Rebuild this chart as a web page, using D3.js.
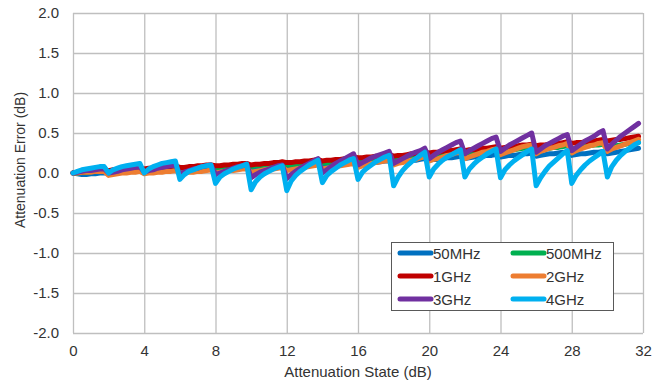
<!DOCTYPE html>
<html>
<head>
<meta charset="utf-8">
<script src="https://cdn.jsdelivr.net/npm/d3@7"></script>
<style>
  body { margin: 0; background: #fff; }
  text { font-family: "Liberation Sans", Arial, sans-serif; fill: #333; }
</style>
</head>
<body>
<svg id="chart" width="668" height="385"></svg>
<script>
// attenuation states, 0.25 dB steps
var states = [
  0, 0.25, 0.5, 0.75, 1, 1.25, 1.5, 1.75,
  2, 2.25, 2.5, 2.75, 3, 3.25, 3.5, 3.75,
  4, 4.25, 4.5, 4.75, 5, 5.25, 5.5, 5.75,
  6, 6.25, 6.5, 6.75, 7, 7.25, 7.5, 7.75,
  8, 8.25, 8.5, 8.75, 9, 9.25, 9.5, 9.75,
  10, 10.25, 10.5, 10.75, 11, 11.25, 11.5, 11.75,
  12, 12.25, 12.5, 12.75, 13, 13.25, 13.5, 13.75,
  14, 14.25, 14.5, 14.75, 15, 15.25, 15.5, 15.75,
  16, 16.25, 16.5, 16.75, 17, 17.25, 17.5, 17.75,
  18, 18.25, 18.5, 18.75, 19, 19.25, 19.5, 19.75,
  20, 20.25, 20.5, 20.75, 21, 21.25, 21.5, 21.75,
  22, 22.25, 22.5, 22.75, 23, 23.25, 23.5, 23.75,
  24, 24.25, 24.5, 24.75, 25, 25.25, 25.5, 25.75,
  26, 26.25, 26.5, 26.75, 27, 27.25, 27.5, 27.75,
  28, 28.25, 28.5, 28.75, 29, 29.25, 29.5, 29.75,
  30, 30.25, 30.5, 30.75, 31, 31.25, 31.5, 31.75
];

var err50M = [
  0.00, -0.01, -0.02, -0.02, -0.01, -0.01, 0.00, 0.00,
  0.00, 0.00, 0.01, 0.01, 0.01, 0.02, 0.02, 0.02,
  0.01, 0.02, 0.02, 0.02, 0.03, 0.03, 0.03, 0.04,
  0.03, 0.03, 0.03, 0.04, 0.04, 0.04, 0.05, 0.05,
  0.04, 0.04, 0.05, 0.05, 0.05, 0.06, 0.06, 0.07,
  0.05, 0.06, 0.06, 0.07, 0.07, 0.08, 0.08, 0.09,
  0.07, 0.08, 0.08, 0.09, 0.09, 0.10, 0.10, 0.11,
  0.09, 0.10, 0.10, 0.11, 0.11, 0.12, 0.12, 0.13,
  0.11, 0.12, 0.12, 0.13, 0.13, 0.14, 0.15, 0.15,
  0.13, 0.14, 0.14, 0.15, 0.16, 0.16, 0.17, 0.18,
  0.16, 0.17, 0.17, 0.18, 0.19, 0.19, 0.20, 0.21,
  0.18, 0.19, 0.20, 0.20, 0.21, 0.22, 0.22, 0.23,
  0.20, 0.21, 0.22, 0.22, 0.23, 0.24, 0.24, 0.25,
  0.21, 0.22, 0.23, 0.24, 0.24, 0.25, 0.26, 0.26,
  0.22, 0.23, 0.24, 0.24, 0.25, 0.26, 0.26, 0.27,
  0.24, 0.25, 0.26, 0.27, 0.28, 0.29, 0.30, 0.31
];

var err500M = [
  0.00, 0.00, 0.01, 0.01, 0.02, 0.02, 0.03, 0.03,
  0.02, 0.02, 0.03, 0.03, 0.04, 0.04, 0.05, 0.05,
  0.04, 0.04, 0.05, 0.05, 0.06, 0.06, 0.07, 0.07,
  0.05, 0.06, 0.06, 0.07, 0.07, 0.08, 0.08, 0.09,
  0.07, 0.07, 0.08, 0.08, 0.09, 0.09, 0.10, 0.10,
  0.08, 0.09, 0.09, 0.10, 0.10, 0.11, 0.11, 0.12,
  0.10, 0.10, 0.11, 0.12, 0.12, 0.13, 0.14, 0.14,
  0.12, 0.13, 0.13, 0.14, 0.15, 0.15, 0.16, 0.17,
  0.15, 0.16, 0.16, 0.17, 0.18, 0.18, 0.19, 0.20,
  0.18, 0.19, 0.19, 0.20, 0.21, 0.21, 0.22, 0.23,
  0.21, 0.22, 0.23, 0.23, 0.24, 0.25, 0.26, 0.27,
  0.24, 0.25, 0.26, 0.26, 0.27, 0.28, 0.29, 0.30,
  0.26, 0.27, 0.28, 0.29, 0.30, 0.31, 0.31, 0.32,
  0.28, 0.29, 0.30, 0.31, 0.32, 0.32, 0.33, 0.34,
  0.30, 0.31, 0.32, 0.33, 0.34, 0.35, 0.35, 0.36,
  0.32, 0.33, 0.34, 0.35, 0.36, 0.37, 0.37, 0.38
];

var err1G = [
  0.00, 0.01, 0.01, 0.02, 0.02, 0.03, 0.03, 0.04,
  0.03, 0.04, 0.04, 0.05, 0.05, 0.06, 0.06, 0.07,
  0.05, 0.06, 0.06, 0.07, 0.07, 0.08, 0.08, 0.09,
  0.07, 0.07, 0.08, 0.08, 0.09, 0.09, 0.10, 0.10,
  0.09, 0.09, 0.10, 0.10, 0.11, 0.11, 0.12, 0.12,
  0.10, 0.11, 0.11, 0.12, 0.12, 0.13, 0.13, 0.14,
  0.13, 0.13, 0.14, 0.14, 0.15, 0.15, 0.16, 0.17,
  0.15, 0.16, 0.16, 0.17, 0.17, 0.18, 0.19, 0.20,
  0.19, 0.19, 0.20, 0.20, 0.21, 0.21, 0.22, 0.23,
  0.21, 0.22, 0.22, 0.23, 0.24, 0.24, 0.25, 0.26,
  0.25, 0.26, 0.26, 0.27, 0.28, 0.28, 0.29, 0.30,
  0.28, 0.29, 0.29, 0.30, 0.31, 0.31, 0.32, 0.33,
  0.31, 0.32, 0.33, 0.33, 0.34, 0.35, 0.35, 0.36,
  0.34, 0.35, 0.35, 0.36, 0.37, 0.37, 0.38, 0.39,
  0.37, 0.38, 0.38, 0.39, 0.40, 0.40, 0.41, 0.42,
  0.40, 0.41, 0.42, 0.42, 0.43, 0.44, 0.45, 0.46
];

var err2G = [
  0.00, 0.00, 0.01, 0.01, 0.01, 0.02, 0.02, 0.02,
  -0.03, -0.02, -0.01, 0.00, 0.00, 0.01, 0.01, 0.02,
  -0.01, 0.00, 0.00, 0.01, 0.01, 0.02, 0.02, 0.03,
  0.00, 0.00, 0.01, 0.01, 0.02, 0.02, 0.03, 0.04,
  0.00, 0.01, 0.02, 0.03, 0.03, 0.04, 0.05, 0.05,
  0.01, 0.02, 0.03, 0.04, 0.05, 0.05, 0.06, 0.07,
  0.03, 0.04, 0.05, 0.06, 0.07, 0.08, 0.09, 0.10,
  0.05, 0.06, 0.07, 0.08, 0.09, 0.10, 0.11, 0.12,
  0.07, 0.09, 0.10, 0.12, 0.13, 0.14, 0.15, 0.16,
  0.10, 0.12, 0.13, 0.15, 0.16, 0.17, 0.19, 0.20,
  0.15, 0.17, 0.18, 0.20, 0.22, 0.23, 0.25, 0.26,
  0.18, 0.20, 0.22, 0.24, 0.26, 0.27, 0.29, 0.30,
  0.23, 0.25, 0.27, 0.29, 0.31, 0.33, 0.34, 0.35,
  0.24, 0.27, 0.29, 0.31, 0.32, 0.34, 0.35, 0.37,
  0.25, 0.28, 0.30, 0.32, 0.34, 0.35, 0.37, 0.38,
  0.27, 0.30, 0.32, 0.34, 0.36, 0.38, 0.40, 0.42
];

var err3G = [
  0.00, 0.01, 0.02, 0.03, 0.03, 0.04, 0.05, 0.05,
  0.00, 0.01, 0.02, 0.04, 0.05, 0.06, 0.07, 0.08,
  0.01, 0.03, 0.04, 0.06, 0.07, 0.08, 0.09, 0.10,
  -0.01, 0.01, 0.03, 0.05, 0.06, 0.08, 0.09, 0.10,
  -0.02, 0.00, 0.02, 0.04, 0.06, 0.08, 0.09, 0.11,
  -0.06, -0.02, 0.01, 0.03, 0.05, 0.07, 0.09, 0.10,
  -0.07, -0.02, 0.02, 0.06, 0.09, 0.12, 0.15, 0.18,
  0.00, 0.04, 0.08, 0.12, 0.15, 0.18, 0.21, 0.24,
  0.10, 0.13, 0.16, 0.19, 0.21, 0.23, 0.25, 0.27,
  0.12, 0.15, 0.18, 0.21, 0.24, 0.26, 0.28, 0.31,
  0.18, 0.22, 0.26, 0.29, 0.32, 0.35, 0.38, 0.40,
  0.24, 0.28, 0.31, 0.34, 0.37, 0.40, 0.43, 0.45,
  0.27, 0.31, 0.35, 0.38, 0.41, 0.44, 0.47, 0.50,
  0.26, 0.30, 0.34, 0.37, 0.40, 0.43, 0.46, 0.48,
  0.28, 0.32, 0.36, 0.40, 0.43, 0.46, 0.50, 0.53,
  0.30, 0.36, 0.41, 0.46, 0.50, 0.54, 0.58, 0.62
];

var err4G = [
  0.00, 0.02, 0.04, 0.05, 0.06, 0.07, 0.08, 0.08,
  0.00, 0.04, 0.06, 0.08, 0.09, 0.10, 0.11, 0.12,
  0.00, 0.05, 0.08, 0.10, 0.12, 0.13, 0.14, 0.15,
  -0.08, -0.02, 0.02, 0.04, 0.06, 0.08, 0.09, 0.10,
  -0.13, -0.05, -0.01, 0.02, 0.05, 0.07, 0.09, 0.11,
  -0.21, -0.11, -0.05, -0.01, 0.02, 0.05, 0.07, 0.09,
  -0.22, -0.10, -0.03, 0.02, 0.06, 0.10, 0.13, 0.16,
  -0.12, -0.03, 0.02, 0.06, 0.10, 0.13, 0.16, 0.18,
  -0.08, 0.01, 0.06, 0.10, 0.14, 0.17, 0.20, 0.22,
  -0.16, -0.05, 0.03, 0.09, 0.14, 0.18, 0.22, 0.26,
  -0.05, 0.05, 0.11, 0.16, 0.20, 0.23, 0.26, 0.29,
  -0.05, 0.05, 0.11, 0.16, 0.20, 0.24, 0.27, 0.30,
  -0.06, 0.04, 0.10, 0.15, 0.19, 0.23, 0.27, 0.30,
  -0.16, -0.06, 0.02, 0.09, 0.14, 0.19, 0.24, 0.28,
  -0.13, -0.03, 0.04, 0.10, 0.15, 0.19, 0.23, 0.27,
  -0.05, 0.08, 0.16, 0.22, 0.27, 0.31, 0.35, 0.38
];

var seriesNames = ["50MHz", "500MHz", "1GHz", "2GHz", "3GHz", "4GHz"];
var seriesValues = [err50M, err500M, err1G, err2G, err3G, err4G];
var seriesColors = ["#0070C0", "#00B050", "#C00000", "#ED7D31", "#7030A0", "#00B0F0"];

var xTicks = [0, 4, 8, 12, 16, 20, 24, 28, 32];
var yTicks = [-2.0, -1.5, -1.0, -0.5, 0.0, 0.5, 1.0, 1.5, 2.0];

var svg = d3.select("#chart");
var plotL = 73, plotR = 643, plotT = 13, plotB = 333;

var x = d3.scaleLinear().domain([0, 32]).range([plotL, plotR]);
var y = d3.scaleLinear().domain([-2, 2]).range([plotB, plotT]);

// grid + tick labels
var gx = svg.append("g")
  .attr("transform", "translate(0," + plotB + ")")
  .call(d3.axisBottom(x).tickValues(xTicks).tickSize(-(plotB - plotT)).tickPadding(12).tickFormat(d3.format("d")));
var gy = svg.append("g")
  .attr("transform", "translate(" + plotL + ",0)")
  .call(d3.axisLeft(y).tickValues(yTicks).tickSize(-(plotR - plotL)).tickPadding(14).tickFormat(function(d) { return d.toFixed(1); }));

[gx, gy].forEach(function(g) {
  g.select(".domain").remove();
  g.selectAll(".tick line").attr("stroke", "#BFBFBF").attr("stroke-width", 1.3);
  g.selectAll(".tick text").attr("fill", "#333").style("font-size", "15px")
    .style("font-family", "'Liberation Sans', Arial, sans-serif");
});

// axis titles
svg.append("text")
  .attr("x", (plotL + plotR) / 2).attr("y", 377)
  .attr("text-anchor", "middle").style("font-size", "15px")
  .text("Attenuation State (dB)");
svg.append("text")
  .attr("transform", "translate(25," + 160 + ") rotate(-90)")
  .attr("text-anchor", "middle").style("font-size", "14px")
  .text("Attenuation Error (dB)");

// lines
var line = d3.line()
  .x(function(d, i) { return x(states[i]); })
  .y(function(d) { return y(d); });

svg.append("g").selectAll("path")
  .data(seriesValues)
  .enter().append("path")
  .attr("d", line)
  .attr("fill", "none")
  .attr("stroke", function(d, i) { return seriesColors[i]; })
  .attr("stroke-width", 5)
  .attr("stroke-linejoin", "round")
  .attr("stroke-linecap", "round");

// legend
var lg = svg.append("g");
lg.append("rect")
  .attr("x", 391.5).attr("y", 242.5).attr("width", 222).attr("height", 68)
  .attr("fill", "#fff").attr("stroke", "#595959").attr("stroke-width", 1);

var legendCols = [400, 513];
var legendRows = [253, 276, 299];
var items = lg.selectAll("g.item")
  .data(seriesNames)
  .enter().append("g")
  .attr("class", "item")
  .attr("transform", function(d, i) {
    return "translate(" + legendCols[i % 2] + "," + legendRows[Math.floor(i / 2)] + ")";
  });
items.append("line")
  .attr("x1", 0).attr("x2", 31).attr("y1", 0).attr("y2", 0)
  .attr("stroke", function(d, i) { return seriesColors[i]; })
  .attr("stroke-width", 5)
  .attr("stroke-linecap", "round");
items.append("text")
  .attr("x", 33).attr("y", 5.5)
  .style("font-size", "15px")
  .text(function(d) { return d; });
</script>
</body>
</html>
